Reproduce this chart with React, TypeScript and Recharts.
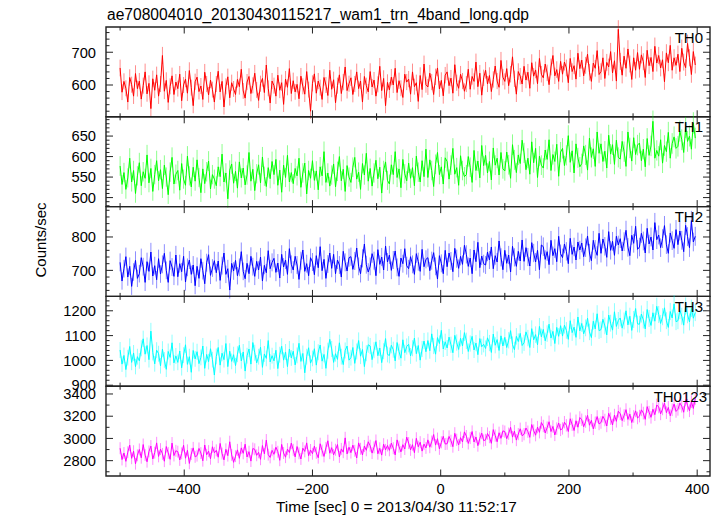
import React from "react";
import { LineChart, Line, XAxis, YAxis, ReferenceArea, ErrorBar } from "recharts";

// light curve bins: t = T_START + i * T_STEP (sec)
const T_START = -500;
const T_STEP = 3;

const TH0 = [
  652, 578, 611, 590, 548, 623, 601, 566, 635, 589,
  612, 557, 598, 640, 573, 605, 528, 619, 584, 631,
  566, 603, 690, 581, 614, 547, 596, 628, 571, 609,
  589, 633, 552, 600, 618, 575, 644, 592, 537, 610,
  624, 580, 597, 556, 639, 603, 570, 615, 586, 548,
  603, 642, 579, 611, 533, 596, 625, 561, 607, 588,
  571, 617, 595, 648, 582, 560, 609, 626, 574, 599,
  636, 585, 553, 604, 620, 577, 661, 590, 545, 612,
  598, 566, 630, 584, 607, 541, 618, 593, 650, 574,
  613, 579, 602, 558, 627, 596, 572, 641, 586, 520,
  605, 634, 575, 612, 592, 556, 623, 600, 568, 645,
  587, 616, 546, 598, 631, 574, 609, 655, 583, 604,
  622, 571, 603, 640, 589, 612, 548, 626, 598, 579,
  641, 594, 615, 566, 602, 657, 583, 620, 537, 608,
  585, 624, 600, 651, 577, 613, 590, 562, 633, 609,
  618, 572, 640, 595, 607, 550, 629, 586, 664, 601,
  594, 636, 609, 571, 625, 652, 588, 614, 567, 630,
  640, 598, 621, 575, 662, 607, 590, 633, 612, 581,
  603, 648, 587, 626, 611, 670, 595, 636, 569, 622,
  645, 603, 629, 580, 617, 658, 612, 593, 675, 624,
  611, 650, 598, 633, 686, 619, 572, 641, 627, 603,
  657, 615, 639, 590, 668, 627, 646, 604, 681, 633,
  622, 664, 637, 601, 655, 690, 628, 647, 611, 672,
  633, 670, 652, 607, 681, 641, 659, 618, 697, 650,
  676, 628, 660, 694, 639, 611, 667, 651, 705, 632,
  641, 683, 620, 669, 655, 702, 637, 674, 612, 770,
  672, 630, 688, 651, 710, 664, 617, 683, 645, 699,
  648, 692, 671, 623, 706, 659, 684, 641, 718, 667,
  690, 652, 677, 610, 698, 668, 721, 645, 683, 660,
  694, 641, 712, 670, 653, 727, 683, 632, 702, 661,
];

const TH1 = [
  577, 532, 561, 520, 548, 596, 538, 566, 510, 553,
  585, 529, 563, 547, 604, 536, 571, 515, 556, 590,
  541, 568, 522, 579, 550, 507, 562, 598, 533, 557,
  566, 518, 583, 545, 530, 601, 553, 526, 574, 540,
  592, 549, 512, 570, 534, 563, 589, 521, 556, 545,
  529, 575, 551, 606, 538, 560, 497, 567, 582, 535,
  564, 523, 587, 548, 572, 531, 555, 610, 540, 569,
  517, 558, 580, 536, 599, 552, 527, 573, 546, 588,
  556, 593, 530, 567, 513, 579, 549, 603, 538, 561,
  534, 571, 553, 596, 525, 560, 584, 509, 566, 547,
  590, 542, 565, 519, 575, 553, 612, 537, 560, 528,
  555, 582, 526, 564, 600, 541, 569, 515, 578, 550,
  537, 574, 598, 545, 562, 520, 583, 555, 608, 540,
  571, 528, 560, 591, 546, 574, 511, 566, 587, 542,
  533, 580, 556, 612, 549, 570, 524, 593, 558, 541,
  584, 547, 573, 529, 601, 562, 538, 590, 551, 618,
  549, 592, 566, 527, 581, 610, 556, 575, 533, 597,
  588, 545, 579, 620, 557, 573, 530, 602, 566, 551,
  556, 600, 574, 537, 615, 566, 589, 548, 627, 578,
  603, 560, 588, 543, 621, 579, 596, 555, 610, 570,
  565, 611, 580, 547, 629, 592, 561, 604, 583, 640,
  609, 568, 596, 557, 636, 585, 620, 549, 601, 579,
  572, 616, 593, 641, 566, 605, 588, 630, 552, 611,
  620, 578, 603, 651, 586, 614, 560, 631, 597, 575,
  583, 626, 604, 567, 645, 598, 619, 576, 660, 608,
  631, 588, 613, 572, 652, 606, 629, 581, 640, 598,
  594, 637, 612, 576, 660, 621, 589, 646, 605, 628,
  633, 590, 618, 575, 644, 603, 626, 686, 596, 615,
  601, 641, 584, 627, 612, 659, 596, 632, 648, 620,
  625, 662, 641, 610, 671, 637, 650, 618, 682, 645,
];

const TH2 = [
  724, 668, 705, 741, 680, 712, 652, 695, 730, 676,
  690, 738, 711, 664, 726, 697, 755, 683, 714, 672,
  735, 689, 718, 751, 700, 664, 729, 710, 682, 746,
  681, 720, 696, 742, 665, 709, 731, 688, 716, 654,
  712, 676, 735, 699, 660, 723, 747, 685, 707, 729,
  693, 728, 670, 714, 752, 688, 705, 641, 721, 698,
  730, 684, 709, 756, 697, 675, 721, 690, 742, 711,
  682, 727, 701, 740, 668, 715, 693, 759, 705, 724,
  736, 694, 722, 677, 748, 710, 731, 688, 765, 718,
  701, 742, 716, 673, 729, 761, 697, 720, 684, 738,
  725, 687, 744, 708, 771, 699, 733, 676, 719, 752,
  706, 748, 690, 731, 716, 680, 757, 724, 698, 738,
  741, 703, 728, 767, 712, 690, 736, 779, 717, 695,
  712, 750, 729, 684, 762, 718, 740, 701, 773, 725,
  746, 700, 731, 758, 709, 682, 737, 720, 765, 714,
  705, 741, 718, 688, 750, 726, 697, 763, 711, 733,
  738, 699, 729, 753, 712, 674, 744, 721, 690, 760,
  711, 752, 728, 696, 766, 735, 706, 742, 718, 775,
  748, 712, 737, 690, 761, 726, 784, 708, 743, 720,
  716, 755, 731, 770, 705, 744, 725, 788, 739, 702,
  760, 721, 746, 695, 772, 739, 712, 757, 728, 791,
  727, 768, 740, 713, 783, 752, 725, 760, 702, 776,
  771, 733, 756, 717, 790, 744, 765, 726, 802, 750,
  738, 779, 757, 720, 796, 748, 770, 731, 785, 761,
  782, 741, 768, 803, 752, 729, 790, 763, 745, 811,
  751, 794, 772, 739, 816, 760, 787, 745, 802, 776,
  795, 758, 786, 820, 769, 744, 805, 781, 832, 763,
  770, 811, 788, 752, 826, 779, 800, 761, 843, 792,
  806, 768, 795, 834, 777, 751, 812, 789, 766, 822,
  777, 818, 790, 756, 835, 801, 768, 849, 785, 802,
];

const TH3 = [
  1042, 985, 1020, 963, 1011, 1056, 992, 1030, 975, 1015,
  998, 1049, 1087, 1025, 1060, 1003, 1118, 1032, 986, 1041,
  1027, 978, 1045, 1002, 964, 1036, 1012, 1071, 990, 1018,
  992, 1038, 970, 1021, 1063, 984, 1015, 952, 1040, 1006,
  1035, 987, 1012, 1058, 968, 1024, 995, 1047, 1003, 941,
  1016, 1052, 981, 1029, 1003, 1068, 975, 1037, 996, 1023,
  979, 1025, 1061, 998, 1034, 957, 1019, 1046, 985, 1072,
  1031, 990, 1015, 1053, 972, 1026, 1008, 1080, 994, 1019,
  998, 1041, 967, 1023, 1057, 1001, 1034, 975, 1046, 1010,
  1037, 982, 1020, 1069, 996, 1028, 950, 1015, 1051, 989,
  1008, 1047, 981, 1033, 1062, 997, 1024, 968, 1039, 1085,
  1046, 992, 1027, 1004, 1071, 1015, 983, 1040, 1058, 1001,
  1011, 1052, 988, 1036, 1080, 1017, 1044, 975, 1029, 1063,
  1058, 1003, 1041, 1075, 1019, 1050, 991, 1037, 1088, 1024,
  1020, 1061, 1043, 998, 1072, 1035, 1009, 1083, 1031, 1056,
  1065, 1018, 1049, 1090, 1027, 1060, 1001, 1046, 1078, 1035,
  1080, 1039, 1107, 1058, 1025, 1092, 1068, 1121, 1046, 1075,
  1050, 1094, 1063, 1031, 1101, 1072, 1044, 1089, 1058, 1112,
  1079, 1036, 1068, 1097, 1042, 1070, 1023, 1088, 1055, 1065,
  1048, 1091, 1070, 1032, 1106, 1061, 1084, 1040, 1099, 1058,
  1093, 1052, 1081, 1120, 1064, 1043, 1097, 1076, 1109, 1060,
  1071, 1115, 1090, 1052, 1128, 1083, 1104, 1063, 1137, 1095,
  1125, 1079, 1108, 1146, 1090, 1117, 1068, 1133, 1097, 1140,
  1098, 1142, 1121, 1085, 1160, 1112, 1134, 1093, 1175, 1119,
  1149, 1107, 1131, 1170, 1115, 1092, 1158, 1127, 1188, 1120,
  1124, 1166, 1139, 1103, 1183, 1150, 1122, 1196, 1137, 1161,
  1171, 1130, 1159, 1200, 1143, 1178, 1121, 1165, 1209, 1147,
  1146, 1187, 1163, 1127, 1205, 1169, 1141, 1192, 1158, 1218,
  1185, 1149, 1176, 1212, 1160, 1133, 1197, 1171, 1228, 1156,
  1160, 1201, 1178, 1142, 1219, 1184, 1155, 1210, 1170, 1193,
];

const TH0123 = [
  2912, 2810, 2869, 2794, 2876, 2940, 2821, 2885, 2772, 2848,
  2901, 2826, 2945, 2850, 2790, 2883, 2931, 2815, 2872, 2960,
  2838, 2904, 2861, 2795, 2927, 2870, 2812, 2958, 2846, 2889,
  2881, 2806, 2866, 2938, 2822, 2893, 2775, 2860, 2915, 2834,
  2845, 2910, 2868, 2799, 2941, 2853, 2886, 2817, 2925, 2871,
  2893, 2831, 2955, 2864, 2807, 2902, 2845, 2970, 2852, 2785,
  2840, 2897, 2821, 2915, 2866, 2948, 2833, 2881, 2796, 2909,
  2902, 2848, 2875, 2812, 2936, 2861, 2985, 2854, 2829, 2893,
  2857, 2921, 2880, 2803, 2946, 2869, 2831, 2904, 2873, 2958,
  2898, 2834, 2927, 2866, 2815, 2912, 2883, 2960, 2845, 2896,
  2862, 2931, 2870, 2826, 2952, 2891, 2838, 2915, 2979, 2867,
  2917, 2852, 2898, 2945, 2833, 2906, 2876, 3005, 2861, 2921,
  2872, 2940, 2889, 2824, 2960, 2907, 2851, 2932, 2893, 2970,
  2934, 2868, 2920, 2981, 2862, 2911, 2850, 2948, 2897, 2937,
  2893, 2958, 2912, 2852, 2987, 2926, 2879, 2944, 2905, 3012,
  2958, 2897, 2944, 2872, 3001, 2925, 2966, 2886, 2949, 2915,
  2987, 2921, 2972, 3035, 2940, 2998, 2906, 2965, 3019, 2950,
  2952, 3018, 2979, 2926, 3046, 2988, 2941, 3007, 2968, 3059,
  3021, 2955, 3004, 3062, 2968, 3013, 2935, 2999, 3048, 2981,
  2987, 3044, 3012, 2956, 3079, 3026, 2970, 3051, 3001, 3068,
  3061, 2998, 3043, 3100, 3012, 3066, 2985, 3039, 3087, 3024,
  3038, 3094, 3061, 3010, 3125, 3071, 3029, 3102, 3055, 3143,
  3112, 3049, 3097, 3150, 3062, 3108, 3031, 3089, 3139, 3076,
  3090, 3146, 3118, 3062, 3177, 3124, 3071, 3159, 3101, 3188,
  3168, 3105, 3152, 3208, 3119, 3163, 3086, 3141, 3197, 3130,
  3143, 3199, 3166, 3112, 3226, 3178, 3121, 3210, 3154, 3245,
  3222, 3160, 3206, 3259, 3171, 3219, 3143, 3198, 3248, 3184,
  3201, 3257, 3228, 3172, 3286, 3236, 3190, 3263, 3214, 3301,
  3283, 3221, 3266, 3320, 3232, 3279, 3204, 3258, 3310, 3243,
  3262, 3318, 3290, 3236, 3348, 3297, 3249, 3331, 3270, 3360,
];

const X_DOMAIN: [number, number] = [-522, 420];
const X_MAJOR = [-400, -200, 0, 200, 400];
const X_MINOR = [-500, -300, -100, 100, 300];

const TITLE = "ae708004010_20130430115217_wam1_trn_4band_long.qdp";
const X_TITLE = "Time [sec] 0 = 2013/04/30 11:52:17";
const Y_TITLE = "Counts/sec";

const PANELS = [
  { name: "TH0", values: TH0, color: "#ff0000", domain: [503, 777], major: [600, 700], minorStep: 20 },
  { name: "TH1", values: TH1, color: "#00ff00", domain: [478, 697], major: [500, 550, 600, 650], minorStep: 10 },
  { name: "TH2", values: TH2, color: "#0000ff", domain: [622, 891], major: [700, 800], minorStep: 20 },
  { name: "TH3", values: TH3, color: "#00ffff", domain: [896, 1258], major: [900, 1000, 1100, 1200], minorStep: 20 },
  { name: "TH0123", values: TH0123, color: "#ff00ff", domain: [2662, 3470], major: [2800, 3000, 3200, 3400], minorStep: 100 },
];

const W = 724;
const H = 516;
const PLOT_LEFT = 106;
const PLOT_RIGHT = 710;
const Y_AXIS_W = 40;
const X_AXIS_H = 20;
const EDGES = [27, 116.8, 206.6, 296.4, 386.2, 476];
const FRAME = "#222";
const FONT = "'Liberation Sans', Arial, Helvetica, sans-serif";

const fmt = (v: number) => String(v).replace("-", "\u2212");

function minorTicks(domain: number[], step: number) {
  const out: number[] = [];
  for (let v = Math.ceil(domain[0] / step) * step; v <= domain[1]; v += step) out.push(v);
  return out;
}

// error bars come out black whatever stroke they get, so force the colour with css
const errorBarCss = PANELS.map(
  (p) => `.panel-${p.name} line:not(.tk) { stroke: ${p.color} !important; stroke-opacity: 0.45 !important; }`
).join("\n");

function Panel({ idx }: { idx: number }) {
  const p = PANELS[idx];
  const top = EDGES[idx];
  const bottom = EDGES[idx + 1];
  const last = idx === PANELS.length - 1;
  // poisson error per 1 s bin
  const data = p.values.map((v, i) => ({ t: T_START + i * T_STEP, v, e: Math.sqrt(v) }));
  const yTicks = minorTicks(p.domain, p.minorStep);

  const YTick = (props: any) => {
    const { y, payload } = props;
    const isMajor = p.major.includes(payload.value);
    const len = isMajor ? 7 : 3.5;
    return (
      <g>
        <line className="tk" x1={PLOT_LEFT} x2={PLOT_LEFT + len} y1={y} y2={y} stroke={FRAME} strokeWidth={1} />
        <line className="tk" x1={PLOT_RIGHT} x2={PLOT_RIGHT - len} y1={y} y2={y} stroke={FRAME} strokeWidth={1} />
        {isMajor && (
          <text x={96} y={y} dy="0.36em" textAnchor="end" fontSize={14.7} fontFamily={FONT} fill="#000">
            {payload.value}
          </text>
        )}
      </g>
    );
  };

  const XTick = (props: any) => {
    const { x, payload } = props;
    const isMajor = X_MAJOR.includes(payload.value);
    const len = isMajor ? 6.5 : 3.5;
    return (
      <g>
        <line className="tk" x1={x} x2={x} y1={top} y2={top + len} stroke={FRAME} strokeWidth={1} />
        <line className="tk" x1={x} x2={x} y1={bottom} y2={bottom - len} stroke={FRAME} strokeWidth={1} />
        {last && isMajor && (
          <text x={x} y={494} textAnchor="middle" fontSize={14.7} fontFamily={FONT} fill="#000">
            {fmt(payload.value)}
          </text>
        )}
      </g>
    );
  };

  return (
    <div className={`panel-${p.name}`} style={{ position: "absolute", left: 0, top: 0 }}>
      <LineChart
        width={W}
        height={H}
        data={data}
        margin={{ top, bottom: H - bottom - X_AXIS_H, left: PLOT_LEFT - Y_AXIS_W, right: W - PLOT_RIGHT }}
      >
        <XAxis
          dataKey="t"
          type="number"
          domain={X_DOMAIN}
          ticks={[...X_MINOR, ...X_MAJOR].sort((a, b) => a - b)}
          interval={0}
          height={X_AXIS_H}
          axisLine={false}
          tickLine={false}
          tick={XTick}
          allowDataOverflow
        />
        <YAxis
          type="number"
          domain={p.domain}
          ticks={yTicks}
          interval={0}
          width={Y_AXIS_W}
          axisLine={false}
          tickLine={false}
          tick={YTick}
          allowDataOverflow
        />
        <Line
          dataKey="v"
          type="linear"
          stroke={p.color}
          strokeWidth={1}
          dot={false}
          isAnimationActive={false}
        >
          <ErrorBar dataKey="e" direction="y" width={0} stroke={p.color} strokeWidth={1} />
        </Line>
        <ReferenceArea
          x1={X_DOMAIN[0]}
          x2={X_DOMAIN[1]}
          y1={p.domain[0]}
          y2={p.domain[1]}
          fill="none"
          stroke={FRAME}
          strokeWidth={1.4}
        />
      </LineChart>
    </div>
  );
}

export default function App() {
  return (
    <div style={{ position: "absolute", left: 0, top: 0, width: W, height: H, background: "#fff" }}>
      <style>{errorBarCss}</style>
      {PANELS.map((p, i) => (
        <Panel key={p.name} idx={i} />
      ))}
      <svg width={W} height={H} style={{ position: "absolute", left: 0, top: 0 }}>
        <text x={107} y={20} fontSize={15.6} fontFamily={FONT} fill="#000">
          {TITLE}
        </text>
        <text x={276} y={511.5} fontSize={15.4} fontFamily={FONT} fill="#000">
          {X_TITLE}
        </text>
        <text
          x={0}
          y={0}
          transform="translate(46,240) rotate(-90)"
          textAnchor="middle"
          fontSize={15}
          fontFamily={FONT}
          fill="#000"
        >
          {Y_TITLE}
        </text>
        {PANELS.map((p, i) => (
          <text
            key={p.name}
            x={p.name === "TH0123" ? 707 : 703}
            y={EDGES[i] + 15.5}
            textAnchor="end"
            fontSize={15}
            fontFamily={FONT}
            fill="#000"
          >
            {p.name}
          </text>
        ))}
      </svg>
    </div>
  );
}
